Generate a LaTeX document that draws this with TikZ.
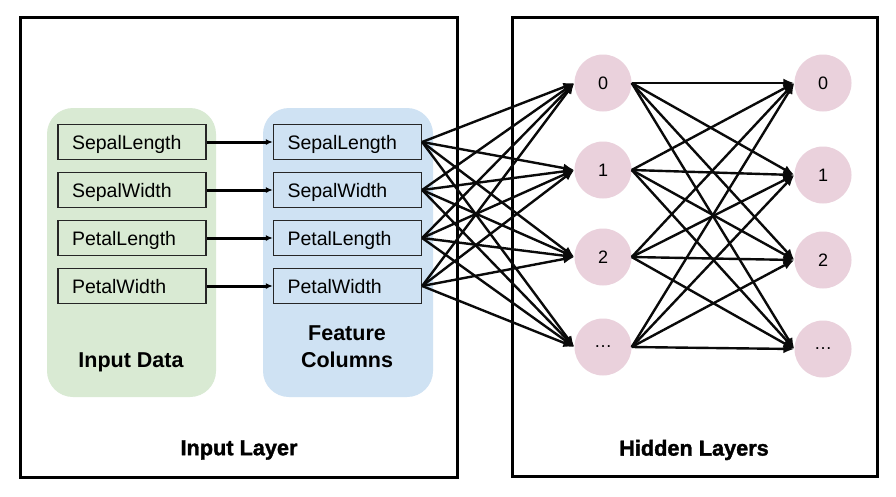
\documentclass[tikz,border=0pt]{standalone}
\usepackage{fontspec}
\setmainfont{Liberation Sans}
\newfontfamily\heavyfont[FakeBold=1.6]{Liberation Sans Bold}
\usetikzlibrary{arrows.meta}
\definecolor{gpanel}{RGB}{217,234,211}
\definecolor{bpanel}{RGB}{207,226,243}
\definecolor{pink}{RGB}{234,209,220}
\definecolor{edgeblack}{RGB}{10,10,10}
\tikzset{
  layerbox/.style={draw=black, line width=3pt, fill=none, inner sep=0pt},
  layertitle/.style={font=\heavyfont\fontsize{21.7}{26}\selectfont, inner sep=0pt},
  panel/.style={rounded corners=26pt, draw=none, inner sep=0pt},
  paneltitle/.style={font=\bfseries\fontsize{21.5}{27}\selectfont, align=center, inner sep=0pt},
  fbox/.style={draw=black!85, line width=1.3pt, minimum height=35pt, text width=120pt,
    text height=14pt, text depth=0pt,
    inner xsep=14pt, inner ysep=0pt, align=left, font=\fontsize{19.5}{23}\selectfont},
  neuron/.style={circle, fill=pink, draw=none, minimum size=57pt, inner sep=0pt,
    font=\fontsize{18}{22}\selectfont},
  edge/.style={draw=edgeblack, line width=2.4pt, -{Latex[length=11pt,width=9pt]}},
  feed/.style={draw=black, line width=3pt, -{Latex[length=7pt,width=6pt]}}
}
\begin{document}
\begin{tikzpicture}[x=1pt,y=-1pt]
\useasboundingbox (0,0) rectangle (896,496);
\fill[white] (0,0) rectangle (896,496);

% panels
\node[panel, fill=gpanel, minimum width=169pt, minimum height=289pt] (gp) at (131.5,252.5) {};
\node[panel, fill=bpanel, minimum width=170pt, minimum height=289pt] (bp) at (348,252.5) {};

% input data boxes
\node[fbox, fill=gpanel] (g1) at (132,142) {SepalLength};
\node[fbox, fill=gpanel] (g2) at (132,190) {SepalWidth};
\node[fbox, fill=gpanel] (g3) at (132,238) {PetalLength};
\node[fbox, fill=gpanel] (g4) at (132,286) {PetalWidth};

% feature column boxes
\node[fbox, fill=bpanel] (b1) at (347.5,142) {SepalLength};
\node[fbox, fill=bpanel] (b2) at (347.5,190) {SepalWidth};
\node[fbox, fill=bpanel] (b3) at (347.5,238) {PetalLength};
\node[fbox, fill=bpanel] (b4) at (347.5,286) {PetalWidth};

\node[paneltitle] (gt) at (131,362) {Input Data};
\node[paneltitle] (bt) at (347,347) {Feature\\Columns};

% layer boxes
\node[layerbox, minimum width=437pt, minimum height=460pt] (inlayer) at (238.5,247) {};
\node[layerbox, minimum width=365pt, minimum height=459pt] (hidlayer) at (694.5,246.5) {};
\node[layertitle] (intitle) at (239,450) {Input Layer};
\node[layertitle] (hidtitle) at (694,450) {Hidden Layers};

% neurons
\node[neuron] (h0) at (603,83) {0};
\node[neuron] (h1) at (603,170) {1};
\node[neuron] (h2) at (603,257) {2};
\node[neuron] (h3) at (603,347) {\dots};
\node[neuron] (k0) at (823,83) {0};
\node[neuron] (k1) at (823,175) {1};
\node[neuron] (k2) at (823,260) {2};
\node[neuron] (k3) at (823,349) {\dots};

% connections
\foreach \i in {1,...,4} {
  \draw[feed] (g\i.east) -- (b\i.west);
  \foreach \j in {0,...,3} \draw[edge] (b\i.east) -- (h\j.west);
}
\foreach \i in {0,...,3} {
  \foreach \j in {0,...,3} \draw[edge] (h\i.east) -- (k\j.west);
}
\end{tikzpicture}
\end{document}
